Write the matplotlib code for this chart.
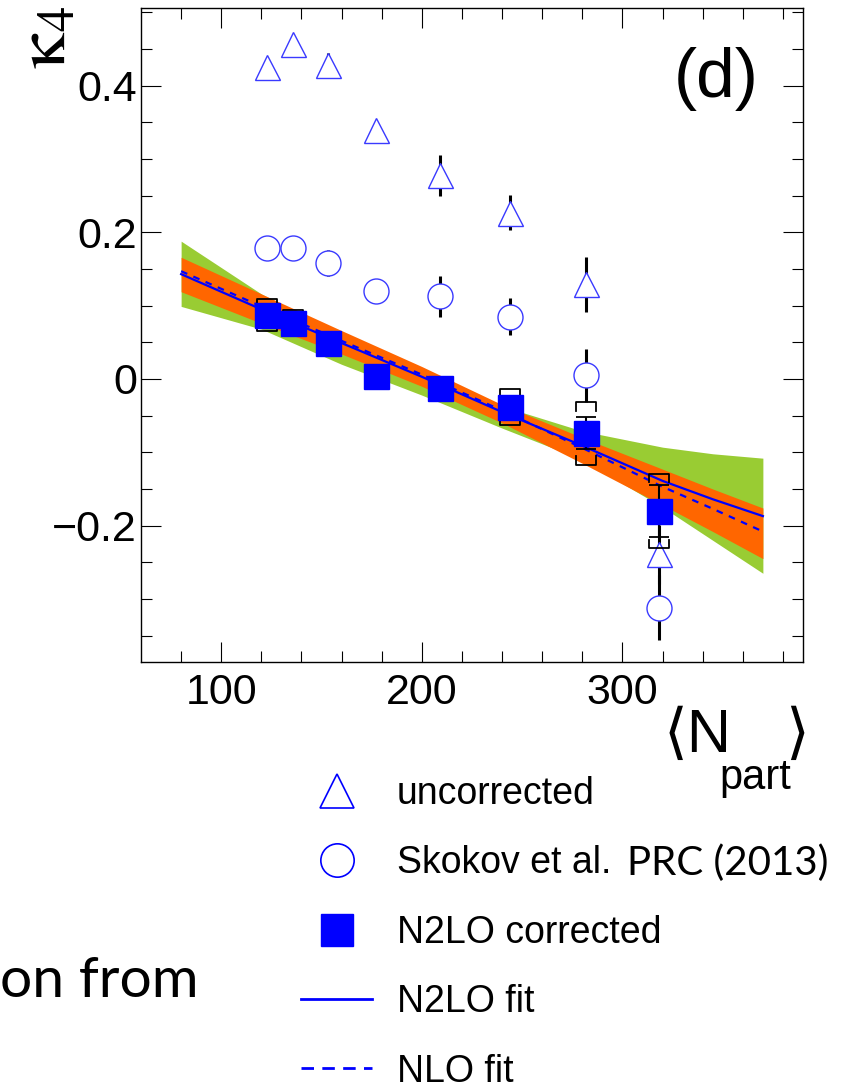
import matplotlib
matplotlib.use('Agg')
import matplotlib.pyplot as plt
from matplotlib.lines import Line2D

plt.rcParams['font.family'] = ['Liberation Sans', 'DejaVu Sans']

# data
npart = [123, 136, 153, 177, 209, 244, 282, 318]
k4_uncorr = [0.425, 0.457, 0.428, 0.339, 0.278, 0.227, 0.129, -0.239]
k4_uncorr_err = [0.004, 0.004, 0.016, 0.008, 0.028, 0.024, 0.037, 0.040]
k4_skokov = [0.179, 0.179, 0.158, 0.120, 0.113, 0.085, 0.005, -0.312]
k4_skokov_err = [0.004, 0.004, 0.018, 0.008, 0.028, 0.025, 0.036, 0.044]
k4_corr = [0.087, 0.076, 0.049, 0.004, -0.012, -0.038, -0.074, -0.180]
k4_corr_stat = [0.015, 0.012, 0.006, 0.006, 0.008, 0.012, 0.022, 0.035]
k4_corr_sys = [0.022, 0.018, 0.008, 0.008, 0.010, 0.025, 0.043, 0.051]

# fit curves and bands
fit_x = [80, 120, 160, 200, 240, 280, 320, 345, 370]
n2lo_fit = [0.143, 0.095, 0.049, 0.003, -0.045, -0.091, -0.139, -0.164, -0.187]
nlo_fit = [0.147, 0.099, 0.052, 0.006, -0.043, -0.094, -0.147, -0.177, -0.208]
nlo_band_hi = [0.166, 0.116, 0.066, 0.017, -0.035, -0.080, -0.123, -0.150, -0.176]
nlo_band_lo = [0.119, 0.076, 0.034, -0.010, -0.060, -0.115, -0.172, -0.208, -0.245]
n2lo_band_hi = [0.188, 0.116, 0.060, 0.012, -0.037, -0.071, -0.093, -0.102, -0.108]
n2lo_band_lo = [0.099, 0.068, 0.020, -0.022, -0.067, -0.110, -0.175, -0.220, -0.265]

fig = plt.figure(figsize=(8.55, 10.91), dpi=100)
ax = fig.add_axes([141 / 855, 1 - 662 / 1091, 662 / 855, 654 / 1091])

ax.fill_between(fit_x, n2lo_band_lo, n2lo_band_hi, color='#99cc33', lw=0, zorder=1)
ax.fill_between(fit_x, nlo_band_lo, nlo_band_hi, color='#ff6600', lw=0, zorder=1.5)
ax.plot(fit_x, n2lo_fit, color='blue', lw=1.6, zorder=2)
ax.plot(fit_x, nlo_fit, color='blue', lw=1.6, ls=(0, (3, 3)), zorder=2)

# open markers with black error bars
ax.errorbar(npart, k4_uncorr, yerr=k4_uncorr_err, fmt='none', ecolor='black',
            elinewidth=2.2, zorder=3)
ax.errorbar(npart, k4_skokov, yerr=k4_skokov_err, fmt='none', ecolor='black',
            elinewidth=2.2, zorder=3)
ax.plot(npart, k4_uncorr, ls='none', marker='^', ms=18, mfc='white',
        mec='#3a3aff', mew=1.0, zorder=4)
ax.plot(npart, k4_skokov, ls='none', marker='o', ms=18, mfc='white',
        mec='#3a3aff', mew=1.0, zorder=4)

# corrected points: stat bars + systematic brackets
ax.errorbar(npart, k4_corr, yerr=k4_corr_stat, fmt='none', ecolor='black',
            elinewidth=1.5, capsize=7, capthick=1.3, zorder=5)
hw = 5
leg = 0.012
for x, y, s in zip(npart, k4_corr, k4_corr_sys):
    ax.plot([x - hw, x - hw, x + hw, x + hw], [y + s - leg, y + s, y + s, y + s - leg],
            color='black', lw=1.3, zorder=5)
    ax.plot([x - hw, x - hw, x + hw, x + hw], [y - s + leg, y - s, y - s, y - s + leg],
            color='black', lw=1.3, zorder=5)
ax.plot(npart, k4_corr, ls='none', marker='s', ms=18, mfc='blue', mec='blue',
        mew=1.0, zorder=6)

ax.set_xlim(60, 390)
ax.set_ylim(-0.386, 0.506)
ax.set_xticks([100, 200, 300])
ax.set_xticks(range(80, 390, 20), minor=True)
ax.set_yticks([-0.2, 0, 0.2, 0.4])
ax.set_yticklabels(['\u22120.2', '0', '0.2', '0.4'])
ax.set_yticks([i * 0.05 for i in range(-7, 11)], minor=True)
ax.tick_params(which='both', direction='in', top=True, right=True, width=0.8,
               labelsize=31)
ax.tick_params(which='major', length=14.5)
ax.tick_params(which='minor', length=8)
ax.tick_params(axis='x', pad=8)
ax.tick_params(axis='y', pad=3)
for sp in ax.spines.values():
    sp.set_linewidth(1.0)

ax.text(0.869, 0.891, '(d)', transform=ax.transAxes, fontsize=50,
        ha='center', va='center')

# y label, rotated
fig.text(47 / 855, 1 - 6 / 1091, r'$\mathrm{\kappa}_4$', math_fontfamily='stix',
         fontsize=52, rotation=90, ha='center', va='top')

# x label built from pieces: <N, subscript part, >
fig.text(664 / 855, 1 - 708 / 1091, '\u27e8N', fontsize=44, ha='left', va='top')
fig.text(719 / 855, 1 - 758 / 1091, 'part', fontsize=30, ha='left', va='top')
fig.text(785 / 855, 1 - 708 / 1091, '\u27e9', fontsize=44, ha='left', va='top')

handles = [
    Line2D([], [], ls='none', marker='^', ms=24, mfc='none', mec='blue', mew=1.2),
    Line2D([], [], ls='none', marker='o', ms=24, mfc='none', mec='blue', mew=1.2),
    Line2D([], [], ls='none', marker='s', ms=23, mfc='blue', mec='blue'),
    Line2D([], [], color='blue', lw=2),
    Line2D([], [], color='blue', lw=2, ls=(0, (4.5, 3))),
]
labels = ['uncorrected', 'Skokov et al.', 'N2LO corrected', 'N2LO fit', 'NLO fit']
fig.legend(handles, labels, loc='upper left', bbox_to_anchor=(301 / 855, 1 - 776 / 1091),
           frameon=False, fontsize=27, handlelength=1.9, handletextpad=0.65,
           labelspacing=0.89, borderpad=0, borderaxespad=0)

fig.text(627 / 855, 1 - 863 / 1091, 'PRC (2013)', family='Lato', fontsize=29,
         va='center')
fig.text(0.0, 1 - 997 / 1091, 'on from', family='Lato', fontsize=41, va='baseline')

fig.savefig('out.png', dpi=100)
